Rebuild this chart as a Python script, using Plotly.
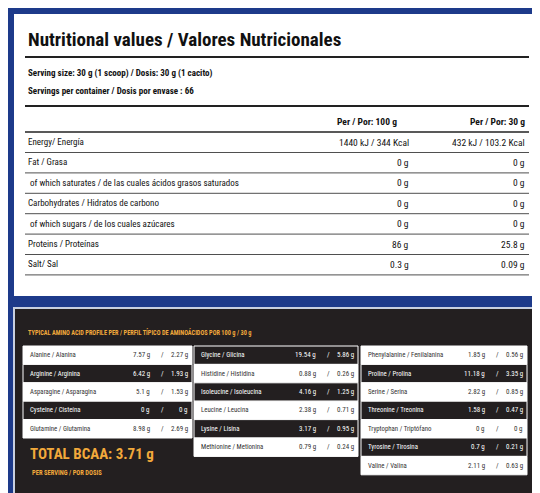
import plotly.graph_objects as go

title = "Nutritional values / Valores Nutricionales"
serving_lines = ["Serving size: 30 g (1 scoop) / Dosis: 30 g (1 cacito)",
                 "Servings per container / Dosis por envase : 66"]
col_headers = ["Per / Por: 100 g", "Per / Por: 30 g"]
nutrients = ["Energy/ Energía", "Fat / Grasa", " of which saturates / de las cuales ácidos grasos saturados",
             "Carbohydrates / Hidratos de carbono", " of which sugars / de los cuales azúcares",
             "Proteins / Proteínas", "Salt/ Sal"]
per100 = ["1440 kJ / 344 Kcal", "0 g", "0 g", "0 g", "0 g", "86 g", "0.3 g"]
per30 = ["432 kJ / 103.2 Kcal", "0 g", "0 g", "0 g", "0 g", "25.8 g", "0.09 g"]

amino_title = "TYPICAL AMINO ACID PROFILE PER / PERFIL TÍPICO DE AMINOÁCIDOS POR 100 g / 30 g"
amino_names = [
    ["Alanine / Alanina", "Arginine / Arginina", "Asparagine / Asparagina", "Cysteine / Cisteína", "Glutamine / Glutamina"],
    ["Glycine / Glicina", "Histidine / Histidina", "Isoleucine / Isoleucina", "Leucine / Leucina", "Lysine / Lisina", "Methionine / Metionina"],
    ["Phenylalanine / Fenilalanina", "Proline / Prolina", "Serine / Serina", "Threonine / Treonina", "Tryptophan / Triptófano", "Tyrosine / Tirosina", "Valine / Valina"],
]
amino_100 = [["7.57", "6.42", "5.1", "0", "8.98"],
             ["19.54", "0.88", "4.16", "2.38", "3.17", "0.79"],
             ["1.85", "11.18", "2.82", "1.58", "0", "0.7", "2.11"]]
amino_30 = [["2.27", "1.93", "1.53", "0", "2.69"],
            ["5.86", "0.26", "1.25", "0.71", "0.95", "0.24"],
            ["0.56", "3.35", "0.85", "0.47", "0", "0.21", "0.63"]]
amino_first_white = [True, False, True]
bcaa_text = "TOTAL BCAA: 3.71 g"
bcaa_sub = "PER SERVING / POR DOSIS"

FONT = "Roboto Condensed, DejaVu Sans Condensed, Roboto, sans-serif"
ORANGE = "#f2a93b"
DARK = "#231f20"
BLUE = "#1d3a8a"

shapes = []
ann = []

def text(x, y, s, size, color="#111", anchor="left", bold=False):
    ann.append(dict(x=x, y=y, text=("<b>%s</b>" % s) if bold else s, showarrow=False,
                    xanchor=anchor, yanchor="middle", xref="x", yref="y",
                    font=dict(family=FONT, size=size, color=color)))

def rect(x0, y0, x1, y1, fill, line=None, lw=0):
    shapes.append(dict(type="rect", x0=x0, y0=y0, x1=x1, y1=y1, xref="x", yref="y",
                       fillcolor=fill, line=dict(color=line or fill, width=lw), layer="below"))

def hline(y, x0, x1, w, color="#222"):
    shapes.append(dict(type="line", x0=x0, x1=x1, y0=y, y1=y, xref="x", yref="y",
                       line=dict(color=color, width=w)))

rect(0, 0, 540, 493, BLUE)
rect(6, 6, 532, 288, "white")
rect(6, 300, 533, 487, DARK, "#c8d0e0", 2)

text(18, 31, title, 19, bold=True)
hline(49, 17, 521, 2)
for i, s in enumerate(serving_lines):
    text(18, 65 + 18 * i, s, 9, bold=True)
hline(98, 17, 521, 2)
text(391, 113, col_headers[0], 9.5, anchor="right", bold=True)
text(519, 113, col_headers[1], 9.5, anchor="right", bold=True)
hline(124, 17, 521, 1.3)
for i, n in enumerate(nutrients):
    y = 134 + 20.4 * i
    text(18, y, n, 9)
    text(403, y, per100[i], 9.5, anchor="right")
    text(519, y, per30[i], 9.5, anchor="right")
    hline(y + 10.5, 17, 521, 0.8)

text(18, 324, amino_title, 6.3, color=ORANGE, bold=True)
col_x = [(15, 184), (186, 350), (353, 519)]
rh = 18.4
for c in range(3):
    x0, x1 = col_x[c]
    for r, name in enumerate(amino_names[c]):
        y0 = 338 + rh * r
        white = (r % 2 == 0) == amino_first_white[c]
        fill = "white" if white else DARK
        tc = "#333" if white else "white"
        rect(x0, y0, x1, y0 + rh, fill, "white", 1)
        yc = y0 + rh / 2
        text(x0 + 5, yc, name, 6.8, color=tc)
        text(x1 - 40, yc, amino_100[c][r] + " g", 7, color=tc, anchor="right")
        text(x1 - 30, yc, "/", 7, color=tc, anchor="center")
        text(x1 - 2, yc, amino_30[c][r] + " g", 7, color=tc, anchor="right")

text(20, 446, bcaa_text, 15, color=ORANGE, bold=True)
text(22, 465, bcaa_sub, 6.5, color=ORANGE, bold=True)

fig = go.Figure()
fig.update_layout(width=540, height=493, margin=dict(l=0, r=0, t=0, b=0),
                  paper_bgcolor=BLUE, plot_bgcolor=BLUE, shapes=shapes, annotations=ann,
                  xaxis=dict(range=[0, 540], visible=False, fixedrange=True),
                  yaxis=dict(range=[493, 0], visible=False, fixedrange=True),
                  showlegend=False)
fig.write_html("out.html")
